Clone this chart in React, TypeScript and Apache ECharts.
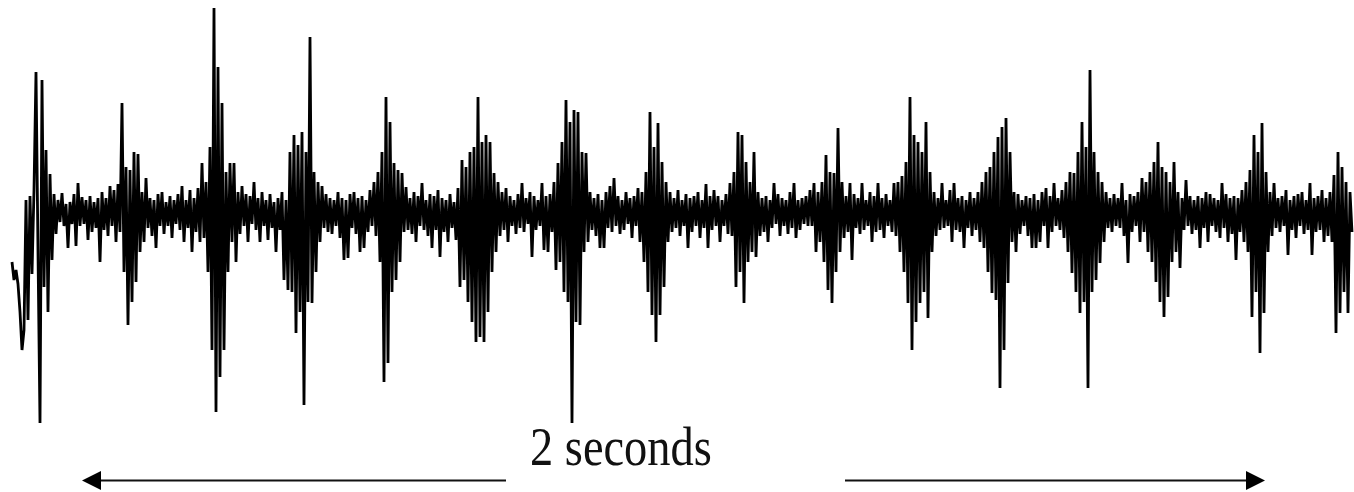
import React, { useEffect, useRef } from "react";
import * as echarts from "echarts";

// Amplitude samples (µV-like units, positive = up), one sample every SAMPLE_MS
const seg0 = [-50,-68,-58,-72,-100,-138,-118,12,-108,16,
  -62,22,140,-40,-211,132,-75,62,-100,38,
  -48,18,-22,12,-10,19,-14,8,-36,10,
  -12,18,-34,29,-14,15,-12,12,-28,16,
  -20,10,-16,14,-50,20,-18,14,-24,26];
const seg1 = [-14,22,-30,28,-20,109,-60,45,-113,42,
  -90,60,-70,58,-40,20,-30,34,-16,14,
  -24,12,-36,18,-14,20,-22,10,-14,16,
  -26,12,-12,18,-18,26,-30,12,-16,22,
  -40,14,-20,24,-30,49,-26,30,-60,65];
const seg2 = [-138,204,-200,145,-165,109,-138,40,-60,49,
  -30,49,-50,20,-22,26,-14,18,-30,16,
  -12,30,-18,14,-30,20,-14,12,-28,18,
  -16,10,-40,14,-18,20,-68,12,-78,60,
  -80,77,-121,67,-100,80,-193,60,-90,175];
const seg3 = [-91,40,-60,30,-30,26,-16,18,-20,14,
  -22,12,-14,20,-26,14,-48,12,-46,18,
  -16,20,-22,14,-40,16,-36,12,-20,22,
  -14,30,-24,40,-50,60,-170,115,-151,90,
  -80,49,-68,42,-50,39,-20,25,-18,14];
const seg4 = [-22,20,-30,16,-14,29,-18,12,-24,18,
  -36,16,-18,22,-45,14,-20,12,-30,18,
  -16,10,-28,24,-75,52,-68,45,-90,60,
  -110,65,-130,115,-125,70,-130,77,-100,70,
  -60,39,-40,30,-24,20,-18,24,-30,16];
const seg5 = [-14,12,-22,18,-16,29,-20,14,-12,20,
  -45,16,-18,12,-14,29,-38,16,-40,18,
  -20,30,-58,49,-50,70,-80,112,-90,90,
  -211,102,-110,100,-113,60,-40,59,-30,20,
  -18,14,-24,18,-36,12,-36,20,-16,26];
const seg6 = [-20,34,-14,16,-22,12,-18,20,-12,14,
  -26,16,-14,24,-30,20,-50,40,-80,100,
  -103,65,-130,89,-103,50,-75,30,-30,20,
  -20,14,-16,22,-24,12,-14,18,-36,14,
  -20,16,-14,20,-26,12,-16,28,-36,16];
const seg7 = [-18,22,-14,16,-30,12,-14,18,-22,29,
  -24,40,-75,80,-60,77,-91,50,-50,30,
  -40,60,-45,20,-24,14,-20,16,-30,12,
  -16,29,-12,18,-24,14,-14,12,-22,20,
  -16,29,-26,12,-18,14,-12,16,-14,22];
const seg8 = [-14,29,-40,20,-30,30,-50,57,-78,40,
  -91,39,-60,84,-40,30,-26,16,-20,29,
  -48,18,-16,14,-22,29,-18,12,-14,20,
  -30,16,-20,29,-18,14,-26,18,-14,12,
  -20,29,-24,30,-40,36,-60,50,-91,115];
const seg9 = [-138,77,-110,70,-91,60,-80,90,-106,40,
  -40,20,-24,14,-18,29,-16,12,-14,22,
  -30,29,-18,14,-20,16,-36,12,-16,20,
  -24,14,-18,20,-30,30,-36,40,-60,45,
  -81,60,-88,75,-176,85,-138,94,-71,60];
const seg10 = [-30,20,-40,18,-22,12,-14,16,-24,14,
  -36,18,-36,12,-30,20,-14,24,-36,16,
  -20,29,-14,14,-18,22,-26,30,-40,40,
  -61,39,-80,60,-101,90,-90,65,-176,142,
  -80,60,-68,40,-51,30,-30,20,-16,14];
const seg11 = [-20,18,-14,14,-16,29,-24,12,-51,18,
  -20,16,-14,20,-30,34,-20,30,-40,40,
  -50,50,-70,70,-90,45,-105,40,-85,30,
  -50,50,-40,20,-56,14,-18,32,-14,16,
  -22,12,-18,16,-36,14,-16,20,-30,18];
const seg12 = [-14,14,-20,12,-26,29,-16,18,-30,14,
  -22,16,-48,14,-20,22,-30,30,-40,42,
  -105,77,-80,60,-141,89,-101,40,-40,20,
  -24,29,-16,14,-20,16,-14,22,-43,12,
  -18,16,-26,18,-14,20,-22,12,-18,29];
const seg13 = [-43,14,-20,16,-18,22,-30,14,-24,20,
  -30,37,-121,60,-101,45,-80,30,-101,20,-20];

const SEGMENTS = [seg0, seg1, seg2, seg3, seg4, seg5, seg6, seg7, seg8, seg9, seg10, seg11, seg12, seg13];
const SAMPLE_MS = 3.4;
const SCALE_LABEL = "2 seconds";

export default function App() {
  const ref = useRef<HTMLDivElement>(null);
  useEffect(() => {
    document.body.style.margin = "0";
    const chart = echarts.init(ref.current as HTMLDivElement, null, { renderer: "svg" });
    const values = SEGMENTS.flat();
    const data = values.map((v, i) => [i * SAMPLE_MS, v]);
    chart.setOption({
      animation: false,
      backgroundColor: "#ffffff",
      grid: { left: 12, right: 2, top: 0, bottom: 0 },
      xAxis: { type: "value", min: 0, max: (values.length - 1) * SAMPLE_MS, show: false },
      yAxis: { type: "value", min: -280, max: 212, show: false },
      series: [
        {
          type: "line",
          data,
          symbol: "none",
          showSymbol: false,
          silent: true,
          clip: false,
          lineStyle: { color: "#000000", width: 2.8, join: "bevel" },
        },
      ],
      graphic: [
        { type: "line", shape: { x1: 98, y1: 480.5, x2: 506, y2: 480.5 }, style: { stroke: "#111", lineWidth: 2 } },
        { type: "line", shape: { x1: 845, y1: 480.5, x2: 1250, y2: 480.5 }, style: { stroke: "#111", lineWidth: 2 } },
        { type: "polygon", shape: { points: [[82, 480.5], [101, 471], [101, 490]] }, style: { fill: "#000" } },
        { type: "polygon", shape: { points: [[1265, 480.5], [1246, 471], [1246, 490]] }, style: { fill: "#000" } },
        {
          type: "text",
          x: 530,
          y: 447,
          scaleX: 0.86,
          style: {
            text: SCALE_LABEL,
            fontSize: 54,
            fontFamily: '"Liberation Serif", "Times New Roman", serif',
            fill: "#111",
            align: "left",
            verticalAlign: "middle",
          },
        },
      ],
    });
    return () => chart.dispose();
  }, []);
  return <div ref={ref} style={{ width: 1354, height: 492 }} />;
}
